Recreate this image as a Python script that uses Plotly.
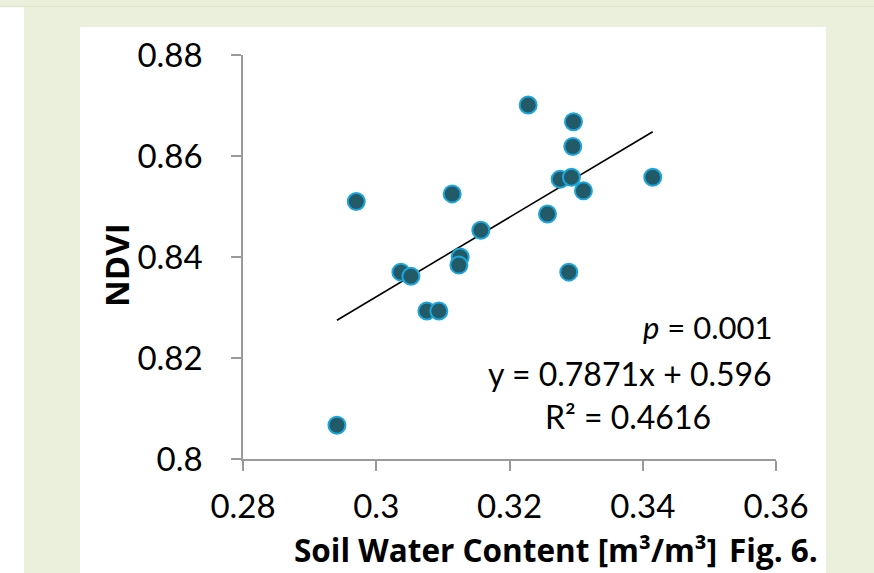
import plotly.graph_objects as go

# Data
soil_water = [0.2941, 0.2970, 0.3037, 0.3052, 0.3076, 0.3094, 0.3114, 0.3126, 0.3124,
              0.3157, 0.3228, 0.3257, 0.3276, 0.3293, 0.3289, 0.3295, 0.3296, 0.3311, 0.3415]
ndvi = [0.8067, 0.8510, 0.8370, 0.8362, 0.8293, 0.8293, 0.8525, 0.8400, 0.8384,
        0.8453, 0.8701, 0.8485, 0.8554, 0.8558, 0.8370, 0.8619, 0.8668, 0.8531, 0.8558]
slope = 0.7871
intercept = 0.596
x_ticks = [0.28, 0.30, 0.32, 0.34, 0.36]
x_tick_labels = ["0.28", "0.3", "0.32", "0.34", "0.36"]
y_ticks = [0.80, 0.82, 0.84, 0.86, 0.88]
y_tick_labels = ["0.8", "0.82", "0.84", "0.86", "0.88"]

trend_x = [min(soil_water), max(soil_water)]
trend_y = [slope * v + intercept for v in trend_x]

FONT = "Lato"
TITLE_FONT = "Open Sans"
GREEN = "#ebf0dc"

fig = go.Figure()
fig.add_trace(go.Scatter(x=trend_x, y=trend_y, mode="lines",
                         line=dict(color="black", width=1.6), showlegend=False,
                         hoverinfo="skip"))
fig.add_trace(go.Scatter(x=soil_water, y=ndvi, mode="markers",
                         marker=dict(size=17, color="#235a68",
                                     line=dict(color="#1ca6dc", width=2)),
                         showlegend=False))

L, R, T, B = 243, 98, 55, 114
W, H = 874, 573
pw, ph = W - L - R, H - T - B


def px_x(p):
    return (p - L) / pw


def px_y(p):
    return (H - B - p) / ph


shapes = [
    dict(type="rect", xref="paper", yref="paper", x0=px_x(-5), x1=px_x(24),
         y0=px_y(580), y1=px_y(7), fillcolor="white", line=dict(width=0), layer="below"),
    dict(type="line", xref="paper", yref="paper", x0=px_x(-5), x1=px_x(880),
         y0=px_y(6.5), y1=px_y(6.5), line=dict(color="#dfe6cd", width=1.5), layer="below"),
    dict(type="rect", xref="paper", yref="paper", x0=px_x(80), x1=px_x(826),
         y0=px_y(580), y1=px_y(27), fillcolor="white", line=dict(width=0), layer="below"),
]


def ann(text, x, y, size, xanchor="center", angle=0, family=FONT):
    return dict(text=text, xref="paper", yref="paper", x=px_x(x), y=px_y(y),
                xanchor=xanchor, yanchor="middle", textangle=angle, showarrow=False,
                font=dict(family=family, size=size, color="black"))


annotations = [
    ann("<i>p</i> = 0.001", 774, 327, 31, xanchor="right"),
    ann("y = 0.7871x + 0.596", 630, 373, 32),
    ann("R² = 0.4616", 628, 416, 32),
    ann("<b>Soil Water Content [m³/m³]</b>", 505, 549, 31.5, family=TITLE_FONT),
    ann("<b>Fig. 6.</b>", 773, 549, 31.5, family=TITLE_FONT),
    ann("<b>NDVI</b>", 116, 265, 33, angle=-90, family=TITLE_FONT),
]

axis_common = dict(showgrid=False, zeroline=False, showline=True, linecolor="#9a9a9a",
                   linewidth=1.5, ticks="outside", ticklen=10, tickwidth=1.5,
                   tickcolor="#9a9a9a", tickfont=dict(family=FONT, size=33, color="black"))

fig.update_layout(
    width=W, height=H,
    margin=dict(l=L, r=R, t=T, b=B),
    paper_bgcolor=GREEN, plot_bgcolor="white",
    xaxis=dict(range=[0.28, 0.36], tickvals=x_ticks, ticktext=x_tick_labels,
               ticklabelstandoff=8, **axis_common),
    yaxis=dict(range=[0.80, 0.88], tickvals=y_ticks, ticktext=y_tick_labels,
               ticklabelstandoff=22, **axis_common),
    shapes=shapes, annotations=annotations,
)

fig.write_html("out.html")
